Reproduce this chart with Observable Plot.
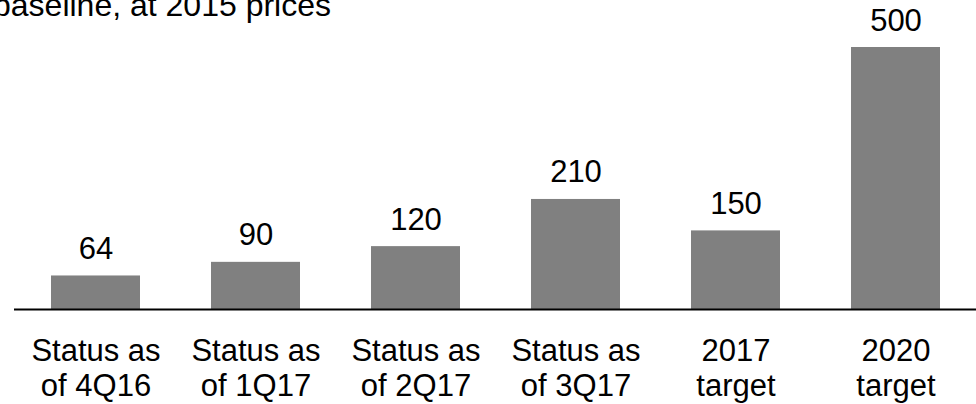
<!DOCTYPE html>
<html>
<head>
<meta charset="utf-8">
<script src="https://cdn.jsdelivr.net/npm/d3@7"></script>
<script src="https://cdn.jsdelivr.net/npm/@observablehq/plot@0.6"></script>
<style>
  html, body { margin: 0; padding: 0; background: #fff; }
  #wrap { position: relative; width: 976px; height: 404px; overflow: hidden; font-family: "Liberation Sans", Arial, sans-serif; }
  #subtitle { position: absolute; right: calc(976px - 331px); top: -13px; font-size: 32px; white-space: nowrap; color: #000; }
</style>
</head>
<body>
<div id="wrap">
  <div id="subtitle">baseline, at 2015 prices</div>
</div>
<script>
// Savings milestones, at 2015 prices
const categories = [
  "Status as\nof 4Q16",
  "Status as\nof 1Q17",
  "Status as\nof 2Q17",
  "Status as\nof 3Q17",
  "2017\ntarget",
  "2020\ntarget"
];
const values = [64, 90, 120, 210, 150, 500];

const data = categories.map((c, i) => ({category: c, value: values[i]}));

const chart = Plot.plot({
  width: 976,
  height: 404,
  marginTop: 47,
  marginBottom: 95,
  marginLeft: 14,
  marginRight: 0,
  style: {fontFamily: "'Liberation Sans', Arial, sans-serif", background: "transparent"},
  x: {domain: categories, paddingInner: 0.445, paddingOuter: 0.225, label: null},
  y: {domain: [0, 500], axis: null},
  marks: [
    Plot.barY(data, {x: "category", y: "value", fill: "#808080"}),
    Plot.ruleY([0], {stroke: "#000", strokeWidth: 2}),
    Plot.text(data, {x: "category", y: "value", text: d => String(d.value), dy: -17, lineAnchor: "bottom", fontSize: 31, fill: "#000"}),
    Plot.axisX({tickSize: 0, tickPadding: 27, fontSize: 31, lineHeight: 1.13, color: "#000", label: null})
  ]
});
chart.style.position = "absolute";
chart.style.left = "0";
chart.style.top = "0";
document.getElementById("wrap").appendChild(chart);
</script>
</body>
</html>
